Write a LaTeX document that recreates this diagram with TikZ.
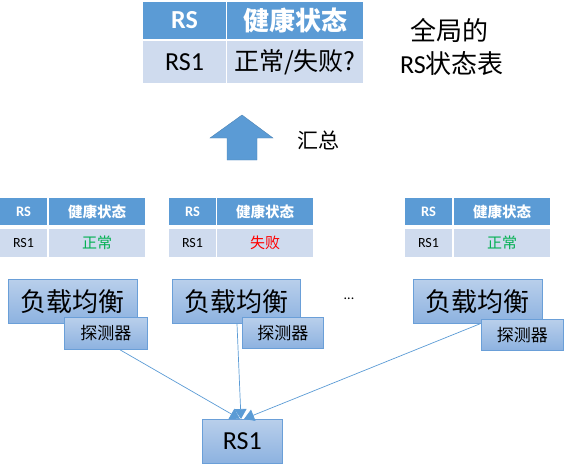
\documentclass[tikz,border=0pt]{standalone}
\usepackage{fontspec}
\setmainfont{Carlito}
\newfontfamily\cjk{Noto Sans CJK SC}
\usetikzlibrary{arrows.meta,calc}
\definecolor{hdrblue}{HTML}{5B9BD5}
\definecolor{rowblue}{HTML}{CFDBEE}
\definecolor{boxtop}{HTML}{B9CFEB}
\definecolor{boxbot}{HTML}{8DB2E0}
\definecolor{boxline}{HTML}{6A9FD8}
\definecolor{okgreen}{HTML}{00B050}
\definecolor{badred}{HTML}{FF0000}
\begin{document}
\begin{tikzpicture}[x=1pt,y=-1pt,
  cell/.style={anchor=north west, inner sep=0pt, outer sep=0pt, align=center},
  hdr/.style={cell, fill=hdrblue, text=white, font=\bfseries},
  rowc/.style={cell, fill=rowblue},
  bigfont/.style={font=\fontsize{26}{29}\selectfont},
  bighdr/.style={font=\fontsize{26}{29}\selectfont\bfseries},
  smallhdr/.style={font=\fontsize{14.5}{17}\selectfont\bfseries},
  smallfont/.style={font=\fontsize{14}{16}\selectfont},
  gbox/.style={draw=boxline, line width=0.8pt, top color=boxtop, bottom color=boxbot, inner sep=0pt, anchor=north west},
  link/.style={draw=hdrblue, line width=0.7pt, -{Triangle[width=12pt,length=10pt]}}
]
\useasboundingbox (0,0) rectangle (565,469);
% top table
\node[hdr, bighdr, minimum width=83pt, minimum height=37pt] (th1) at (143,2) {RS};
\node[hdr, bighdr, minimum width=136pt, minimum height=37pt] (th2) at (227,2) {\cjk 健康状态};
\node[rowc, bigfont, minimum width=83pt, minimum height=42pt] (tr1) at (143,41) {RS1};
\node[rowc, minimum width=136pt, minimum height=42pt, font=\fontsize{25}{28}\selectfont] (tr2) at (227,41) {\cjk 正常/失败?};
\node[inner sep=0pt] (title1) at (449,30) {\fontsize{26}{29}\selectfont\cjk 全局的};
\node[inner sep=0pt] (title2) at (452,64) {\fontsize{26}{29}\selectfont RS{\cjk 状态表}};
% up arrow
\draw[fill=hdrblue, draw=hdrblue!85!black, line width=0.4pt] (242,115) -- (273,138) -- (257,138) -- (257,160) -- (227,160) -- (227,138) -- (210,138) -- cycle;
\node[font=\fontsize{21}{24}\selectfont, inner sep=0pt] (sum) at (318,140) {\cjk 汇总};
% small tables
\foreach \n/\x/\y/\c/\t in {a/0/49/okgreen/正常, b/169/217/badred/失败, c/405/454/okgreen/正常}{
  \node[hdr, smallhdr, minimum width=47pt, minimum height=27pt] (\n h1) at (\x,198) {RS};
  \node[hdr, smallhdr, minimum width=96pt, minimum height=27pt] (\n h2) at (\y,198) {\cjk 健康状态};
  \node[rowc, smallfont, minimum width=47pt, minimum height=28pt] (\n r1) at (\x,229) {RS1};
  \node[rowc, minimum width=96pt, minimum height=28pt, text=\c, font=\fontsize{15}{17}\selectfont] (\n r2) at (\y,229) {\cjk \t};
}
% load balancer boxes
\node[gbox, font=\fontsize{26}{29}\selectfont, minimum width=129pt, minimum height=44pt] (lb1) at (8,279) {\cjk 负载均衡};
\node[gbox, font=\fontsize{17}{20}\selectfont, minimum width=83pt, minimum height=32pt] (pr1) at (64,317) {\cjk 探测器};
\node[gbox, font=\fontsize{26}{29}\selectfont, minimum width=128pt, minimum height=44pt] (lb2) at (172,279) {\cjk 负载均衡};
\node[gbox, font=\fontsize{17}{20}\selectfont, minimum width=81pt, minimum height=31pt] (pr2) at (242,317) {\cjk 探测器};
\node[gbox, font=\fontsize{26}{29}\selectfont, minimum width=129pt, minimum height=44pt] (lb3) at (413,279) {\cjk 负载均衡};
\node[gbox, font=\fontsize{17}{20}\selectfont, minimum width=82pt, minimum height=31pt] (pr3) at (481,319) {\cjk 探测器};
\node[font=\fontsize{14}{16}\selectfont, inner sep=0pt] (dots) at (349,299) {...};
% RS1 server
\node[gbox, font=\fontsize{26}{30}\selectfont, minimum width=80pt, minimum height=44pt] (rs) at (202,419) {RS1};
% connectors
\coordinate (s1) at ($(pr1.south west)+(56,0)$);
\coordinate (s2) at ($(lb2.south west)+(65,0)$);
\coordinate (s3) at ($(lb3.south west)+(67,0)$);
\draw[link] (s1) -- ($(rs.north west)+(38,0)$);
\draw[link] (s2) -- ($(rs.north west)+(39,0)$);
\draw[link] (s3) -- ($(rs.north west)+(42,0)$);
\end{tikzpicture}
\end{document}
